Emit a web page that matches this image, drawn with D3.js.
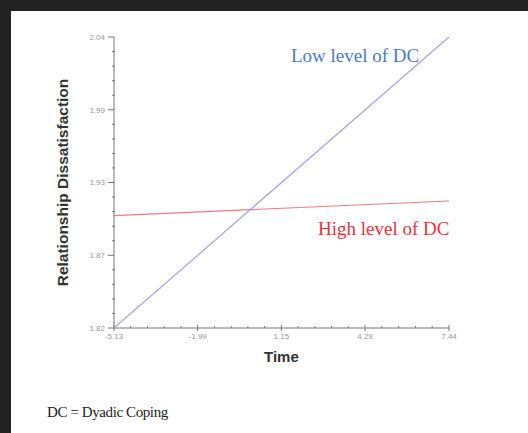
<!DOCTYPE html>
<html>
<head>
<meta charset="utf-8">
<script src="https://cdn.jsdelivr.net/npm/d3@7"></script>
<style>
  body { margin: 0; background: #222; }
  svg { display: block; }
</style>
</head>
<body>
<div id="chart"></div>
<script>
var width = 528;
var height = 433;

// Tick values and the labels printed next to them
var xTickValues = [-5.13, -1.99, 1.15, 4.29, 7.44];
var xTickLabels = ["-5.13", "-1.99", "1.15", "4.29", "7.44"];
var yTickValues = [1.82, 1.875, 1.93, 1.985, 2.04];
var yTickLabels = ["1.82", "1.87", "1.93", "1.99", "2.04"];

// Two simple slopes, start and end of the time range
var timePoints = [-5.13, 7.44];
var lowDC = [1.82, 2.04];
var highDC = [1.905, 1.916];

var svg = d3.select("#chart").append("svg")
    .attr("width", width)
    .attr("height", height);

// White panel over the dark background
svg.append("rect")
    .attr("x", 11).attr("y", 11)
    .attr("width", width - 11).attr("height", height - 11)
    .attr("fill", "#fff");

var x = d3.scaleLinear().domain([-5.13, 7.44]).range([114, 449]);
var y = d3.scaleLinear().domain([1.82, 2.04]).range([328, 37]);

var axisColor = "#777";

// Minor ticks: 5 steps between each pair of major ticks
function minorTicks(values) {
  var out = [];
  for (var i = 0; i < values.length - 1; i++) {
    for (var k = 1; k < 5; k++) {
      out.push(values[i] + (values[i + 1] - values[i]) * k / 5);
    }
  }
  return out;
}

// Y axis
var yAxis = svg.append("g").attr("transform", "translate(114,0)");
yAxis.append("line")
    .attr("y1", y(2.04)).attr("y2", y(1.82))
    .attr("stroke", axisColor);
yAxis.selectAll("line.major").data(yTickValues).enter()
  .append("line")
    .attr("class", "major")
    .attr("x1", -6).attr("x2", 0)
    .attr("y1", d => y(d)).attr("y2", d => y(d))
    .attr("stroke", axisColor);
yAxis.selectAll("line.minor").data(minorTicks(yTickValues)).enter()
  .append("line")
    .attr("class", "minor")
    .attr("x1", -2).attr("x2", 1)
    .attr("y1", d => y(d)).attr("y2", d => y(d))
    .attr("stroke", axisColor);
yAxis.selectAll("text").data(yTickValues).enter()
  .append("text")
    .attr("x", -9)
    .attr("y", d => y(d))
    .attr("dy", "0.35em")
    .attr("text-anchor", "end")
    .attr("font-family", "Arial, 'Liberation Sans', sans-serif")
    .attr("font-size", 8)
    .attr("fill", "#999")
    .text((d, i) => yTickLabels[i]);

// X axis
var xAxis = svg.append("g").attr("transform", "translate(0,328)");
xAxis.append("line")
    .attr("x1", x(-5.13)).attr("x2", x(7.44))
    .attr("stroke", axisColor);
xAxis.selectAll("line.major").data(xTickValues).enter()
  .append("line")
    .attr("class", "major")
    .attr("x1", d => x(d)).attr("x2", d => x(d))
    .attr("y1", -3).attr("y2", 3)
    .attr("stroke", axisColor);
xAxis.selectAll("line.minor").data(minorTicks(xTickValues)).enter()
  .append("line")
    .attr("class", "minor")
    .attr("x1", d => x(d)).attr("x2", d => x(d))
    .attr("y1", -2).attr("y2", 0)
    .attr("stroke", axisColor);
xAxis.selectAll("text").data(xTickValues).enter()
  .append("text")
    .attr("x", d => x(d))
    .attr("y", 11)
    .attr("text-anchor", "middle")
    .attr("font-family", "Arial, 'Liberation Sans', sans-serif")
    .attr("font-size", 8)
    .attr("fill", "#999")
    .text((d, i) => xTickLabels[i]);

// Axis titles
svg.append("text")
    .attr("x", x(1.15))
    .attr("y", 362)
    .attr("text-anchor", "middle")
    .attr("font-family", "Arial, 'Liberation Sans', sans-serif")
    .attr("font-weight", "bold")
    .attr("font-size", 15)
    .attr("fill", "#333")
    .text("Time");

svg.append("text")
    .attr("transform", "translate(68," + ((y(2.04) + y(1.82)) / 2) + ") rotate(-90)")
    .attr("text-anchor", "middle")
    .attr("font-family", "Arial, 'Liberation Sans', sans-serif")
    .attr("font-weight", "bold")
    .attr("font-size", 15.5)
    .attr("fill", "#333")
    .text("Relationship Dissatisfaction");

// Slope lines
var line = d3.line()
    .x((d, i) => x(timePoints[i]))
    .y(d => y(d));

svg.append("path")
    .datum(highDC)
    .attr("d", line)
    .attr("fill", "none")
    .attr("stroke", "#ee7c88")
    .attr("stroke-width", 1.2);

svg.append("path")
    .datum(lowDC)
    .attr("d", line)
    .attr("fill", "none")
    .attr("stroke", "#a4a4e2")
    .attr("stroke-width", 1.2);

// Line labels
svg.append("text")
    .attr("x", 291).attr("y", 62)
    .attr("font-family", "'Liberation Serif', 'Times New Roman', serif")
    .attr("font-size", 19)
    .attr("fill", "#4a7cc2")
    .text("Low level of DC");

svg.append("text")
    .attr("x", 318).attr("y", 235)
    .attr("font-family", "'Liberation Serif', 'Times New Roman', serif")
    .attr("font-size", 19)
    .attr("fill", "#e8333f")
    .text("High level of DC");

// Footnote
svg.append("text")
    .attr("x", 47).attr("y", 417)
    .attr("font-family", "'Liberation Serif', 'Times New Roman', serif")
    .attr("font-size", 15)
    .attr("letter-spacing", -0.4)
    .attr("fill", "#222")
    .text("DC = Dyadic Coping");
</script>
</body>
</html>
